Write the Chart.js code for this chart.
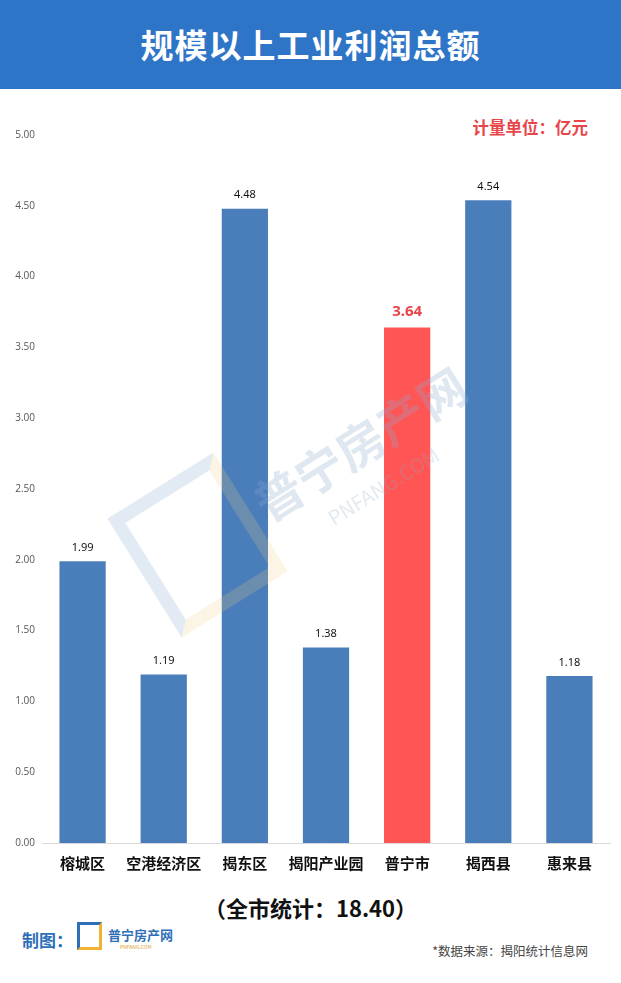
<!DOCTYPE html>
<html>
<head>
<meta charset="utf-8">
<script src="https://cdn.jsdelivr.net/npm/chart.js@4/dist/chart.umd.min.js"></script>
<style>
  html,body{margin:0;padding:0;background:#fff;}
  body{width:621px;height:983px;position:relative;overflow:hidden;font-family:"Noto Sans CJK SC","Noto Sans",sans-serif;}
  #header{position:absolute;left:0;top:0;width:621px;height:89px;background:#2F75C7;color:#fff;font-weight:bold;font-size:33px;text-align:center;line-height:89px;letter-spacing:1px;}
  #unit{position:absolute;right:33px;top:115px;color:#E8454A;font-weight:bold;font-size:16.5px;}
  #wrap{position:absolute;left:0;top:120px;width:621px;height:758px;}
  #total{position:absolute;left:0;width:621px;top:891px;text-align:center;font-weight:bold;font-size:22px;color:#111;}
  #maker{position:absolute;left:22px;top:927px;color:#2F6FB8;font-weight:bold;font-size:17px;}
  #logo{position:absolute;left:77px;top:922px;width:25px;height:28px;border:3px solid #2F6FB8;border-right-color:#F2B233;border-bottom-color:#F2B233;box-sizing:border-box;}
  #logotxt{position:absolute;left:108px;top:925px;color:#2F6FB8;font-weight:bold;font-size:13px;}
  #logosub{position:absolute;left:120px;top:943px;color:#E0A030;font-size:5px;}
  #source{position:absolute;right:33px;top:941px;color:#444;font-size:12.5px;}
  #wm{position:absolute;left:270px;top:478px;transform:rotate(-32deg);transform-origin:left bottom;color:rgba(140,170,205,0.28);font-weight:bold;font-size:48px;line-height:1;pointer-events:none;white-space:nowrap;}
  #wm2{position:absolute;left:335px;top:508px;transform:rotate(-32deg);transform-origin:left bottom;color:rgba(140,170,205,0.25);font-size:20px;line-height:1;pointer-events:none;white-space:nowrap;}
  #wmicon{position:absolute;left:135px;top:475px;width:125px;height:140px;transform:rotate(-32deg);border:13px solid rgba(140,170,205,0.25);border-right-color:rgba(240,200,120,0.2);border-bottom-color:rgba(240,200,120,0.2);box-sizing:border-box;pointer-events:none;}
</style>
</head>
<body>
<div id="header">规模以上工业利润总额</div>
<div id="unit">计量单位：亿元</div>
<div id="wrap"><canvas id="c"></canvas></div>
<div id="wmicon"></div>
<div id="wm">普宁房产网</div>
<div id="wm2">PNFANG.COM</div>
<div id="total">（全市统计：18.40）</div>
<div id="maker">制图：</div>
<div id="logo"></div>
<div id="logotxt">普宁房产网</div>
<div id="logosub">PNFANG.COM</div>
<div id="source">*数据来源：揭阳统计信息网</div>
<script>
const categories = ["榕城区","空港经济区","揭东区","揭阳产业园","普宁市","揭西县","惠来县"];
const values = [1.99, 1.19, 4.48, 1.38, 3.64, 4.54, 1.18];
const highlightIndex = 4;
const yMin = 0, yMax = 5, yStep = 0.5;

const blue = "#4A7EBB", red = "#FF5555";
const colors = categories.map((_, i) => i === highlightIndex ? red : blue);

const valueLabels = {
  id: "valueLabels",
  afterDatasetsDraw(chart) {
    const ctx = chart.ctx;
    const meta = chart.getDatasetMeta(0);
    ctx.save();
    ctx.textAlign = "center";
    ctx.textBaseline = "bottom";
    meta.data.forEach((bar, i) => {
      if (i === highlightIndex) {
        ctx.fillStyle = "#E8454A";
        ctx.font = "bold 15px 'Noto Sans', sans-serif";
        ctx.fillText(values[i].toFixed(2), bar.x, bar.y - 8);
      } else {
        ctx.fillStyle = "#111";
        ctx.font = "11px 'Noto Sans', sans-serif";
        ctx.fillText(values[i].toFixed(2), bar.x, bar.y - 8);
      }
    });
    ctx.restore();
  }
};

new Chart(document.getElementById("c"), {
  type: "bar",
  data: {
    labels: categories,
    datasets: [{ data: values, backgroundColor: colors, barPercentage: 0.57, categoryPercentage: 1.0 }]
  },
  options: {
    responsive: true,
    maintainAspectRatio: false,
    animation: false,
    layout: { padding: { top: 15, right: 11, left: 0, bottom: 0 } },
    plugins: { legend: { display: false }, tooltip: { enabled: false } },
    scales: {
      x: {
        grid: { display: false, drawTicks: false },
        border: { display: true, color: "#D9D9D9", width: 1 },
        ticks: { color: "#111", padding: 11, font: { size: 15, weight: "bold", family: "'Noto Sans CJK SC', sans-serif" } },
        afterFit(scale) { scale.height = 35; }
      },
      y: {
        min: yMin, max: yMax,
        grid: { display: false, drawTicks: false },
        border: { display: false },
        ticks: { stepSize: yStep, color: "#555", padding: 7, font: { size: 10, family: "'Open Sans', sans-serif" },
          callback: v => Number(v).toFixed(2) },
        afterFit(scale) { scale.width = 42; }
      }
    }
  },
  plugins: [valueLabels]
});
</script>
</body>
</html>
